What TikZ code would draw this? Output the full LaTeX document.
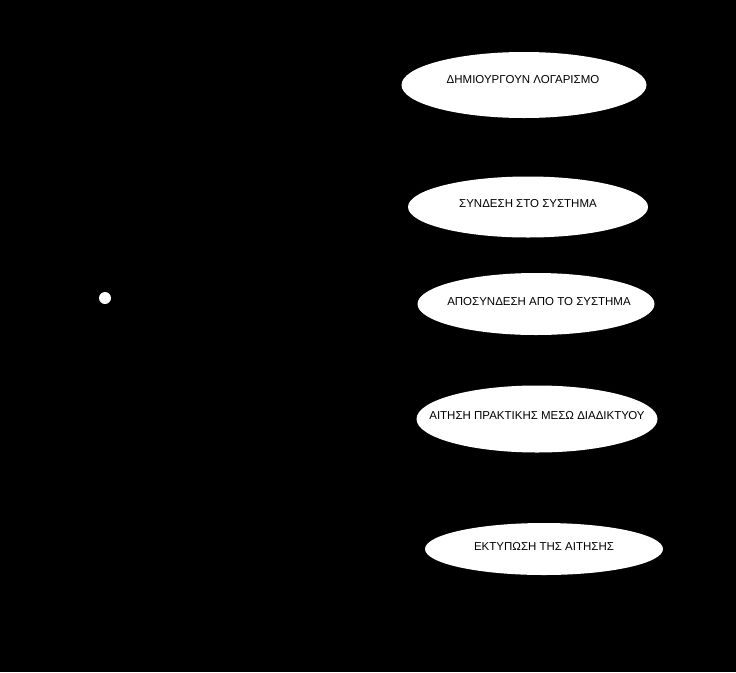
\documentclass[tikz,border=0pt]{standalone}
\usepackage{fontspec}
\setmainfont{Liberation Sans}
\begin{document}
\begin{tikzpicture}[x=1pt,y=-1pt,
  usecase/.style={ellipse, fill=white, draw=none, inner sep=0pt},
  uclabel/.style={font=\fontsize{11.5}{13}\selectfont, text=black, inner sep=0pt}]
\usetikzlibrary{shapes.geometric}
\fill[black] (0,0) rectangle (736,672);
\useasboundingbox (0,0) rectangle (736,672);
% actor dot
\node[circle, fill=white, inner sep=0pt, minimum size=12pt] (actor) at (105,298) {};
% use cases
\node[usecase, minimum width=245pt, minimum height=66pt] (uc1) at (524,85) {};
\node[uclabel] (t1) at (523,80) {ΔΗΜΙΟΥΡΓΟΥΝ ΛΟΓΑΡΙΣΜΟ};
\node[usecase, minimum width=240pt, minimum height=61pt] (uc2) at (528,207) {};
\node[uclabel] (t2) at (528,204) {ΣΥΝΔΕΣΗ ΣΤΟ ΣΥΣΤΗΜΑ};
\node[usecase, minimum width=237pt, minimum height=62pt] (uc3) at (536,304) {};
\node[uclabel] (t3) at (539,302) {ΑΠΟΣΥΝΔΕΣΗ ΑΠΟ ΤΟ ΣΥΣΤΗΜΑ};
\node[usecase, minimum width=241pt, minimum height=67pt] (uc4) at (537,419) {};
\node[uclabel] (t4) at (537,416) {ΑΙΤΗΣΗ ΠΡΑΚΤΙΚΗΣ ΜΕΣΩ ΔΙΑΔΙΚΤΥΟΥ};
\node[usecase, minimum width=238pt, minimum height=52pt] (uc5) at (544,549) {};
\node[uclabel] (t5) at (544,546) {ΕΚΤΥΠΩΣΗ ΤΗΣ ΑΙΤΗΣΗΣ};
\end{tikzpicture}
\end{document}
